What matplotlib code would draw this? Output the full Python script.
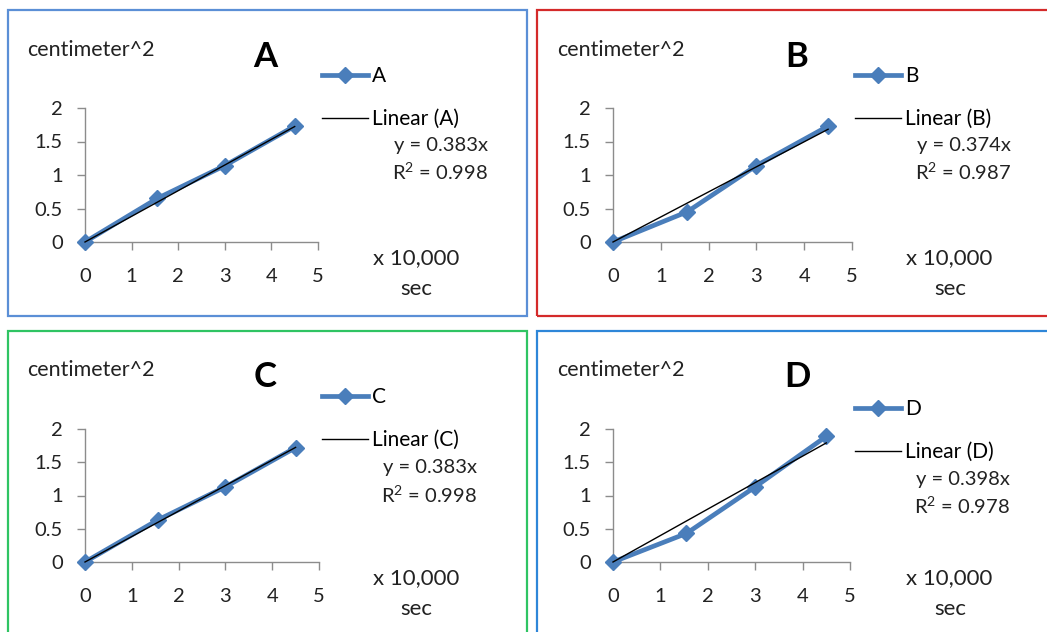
import matplotlib
matplotlib.use("Agg")
import matplotlib.pyplot as plt
from matplotlib.patches import Rectangle
from matplotlib.ticker import FuncFormatter

W, H = 1047, 632
plt.rcParams['font.family'] = ['Lato', 'DejaVu Sans']
plt.rcParams['mathtext.fontset'] = 'custom'
plt.rcParams['mathtext.rm'] = 'Lato'
plt.rcParams['mathtext.it'] = 'Lato:italic'
plt.rcParams['mathtext.bf'] = 'Lato:bold'

x_vals = [0, 1.55, 3.0, 4.5]
series_A = [0, 0.65, 1.14, 1.73]
series_B = [0, 0.45, 1.14, 1.73]
series_C = [0, 0.63, 1.13, 1.72]
series_D = [0, 0.43, 1.13, 1.89]
slopes = [0.383, 0.374, 0.383, 0.398]
r2 = [0.998, 0.987, 0.998, 0.978]
names = ["A", "B", "C", "D"]
x_ticks = [0, 1, 2, 3, 4, 5]
y_ticks = [0, 0.5, 1, 1.5, 2]
y_label = "centimeter^2"
x_label_1 = "x 10,000"
x_label_2 = "sec"

series = [series_A, series_B, series_C, series_D]
border_colors = ["#5b8fd6", "#d42a2a", "#2fc463", "#2e86d8"]
# panel boxes (left, top, right, bottom) in pixels
boxes = [(8, 10, 527, 316), (537, 10, 1052, 316), (8, 331, 527, 640), (537, 331, 1052, 640)]
# axes positions (left, top, right, bottom) in pixels
axes_px = [(85, 108, 318, 242), (613, 108, 852, 242), (85, 429, 319, 562), (613, 429, 850, 562)]
# text positions per panel (pixels)
ylab_pos = [(27, 50), (557, 50), (27, 370), (557, 370)]
title_pos = [(265, 57), (797, 57), (265, 377), (797, 377)]
legend_pos = [(322, 75), (855, 75), (322, 396), (855, 408)]
eq_pos = [(488, 145), (1011, 145), (477, 468), (1010, 479)]
xlab_pos = [(373, 258), (906, 258), (373, 578), (906, 578)]
sec_pos = [(416, 289), (950, 289), (416, 609), (950, 609)]

blue = "#4a7ebb"
txt = "#222222"
fig = plt.figure(figsize=(W / 100, H / 100), dpi=100)

def fx(px):
    return px / W

def fy(py):
    return 1 - py / H

for i in range(4):
    l, t, r, b = boxes[i]
    fig.patches.append(Rectangle((fx(l), fy(b)), fx(r - l), (b - t) / H, transform=fig.transFigure,
                                 fill=False, edgecolor=border_colors[i], linewidth=1.6))
    al, at, ar, ab = axes_px[i]
    ax = fig.add_axes([fx(al), fy(ab), fx(ar - al), (ab - at) / H])
    ax.plot(x_vals, series[i], color=blue, lw=3.4, marker='D', markersize=8.5,
            markerfacecolor=blue, markeredgecolor=blue, label=names[i], zorder=3, clip_on=False)
    xs = [x_vals[0], x_vals[-1]]
    ax.plot(xs, [slopes[i] * v for v in xs], color="black", lw=1.0,
            label="Linear (%s)" % names[i], zorder=4, clip_on=False)
    ax.set_xlim(0, 5)
    ax.set_ylim(0, 2)
    ax.set_xticks(x_ticks)
    ax.set_yticks(y_ticks)
    ax.yaxis.set_major_formatter(FuncFormatter(lambda v, p: ("%g" % v)))
    for s in ["top", "right"]:
        ax.spines[s].set_visible(False)
    for s in ["left", "bottom"]:
        ax.spines[s].set_color("#8c8c8c")
        ax.spines[s].set_linewidth(1.0)
    ax.tick_params(axis='both', colors="#8c8c8c", labelcolor=txt, labelsize=14.5,
                   length=6, width=1.0)
    ax.tick_params(axis='x', pad=13)
    ax.tick_params(axis='y', pad=10)
    ax.patch.set_alpha(0)

    lx, ly = legend_pos[i]
    ax.legend(loc='upper left', bbox_to_anchor=(fx(lx), fy(ly - 9)),
              bbox_transform=fig.transFigure, frameon=False, fontsize=15,
              handlelength=2.2, handletextpad=0.2, labelspacing=1.1, numpoints=1,
              borderpad=0, borderaxespad=0)

    px, py = ylab_pos[i]
    fig.text(fx(px), fy(py), y_label, fontsize=15.5, va='center', ha='left', color=txt)
    px, py = title_pos[i]
    fig.text(fx(px), fy(py), names[i], fontsize=25, fontweight='bold',
             va='center', ha='center', color="black")
    px, py = eq_pos[i]
    fig.text(fx(px), fy(py), "y = %.3fx" % slopes[i], fontsize=14.5,
             va='center', ha='right', color=txt)
    fig.text(fx(px), fy(py + 27), "R$^2$ = %.3f" % r2[i], fontsize=14.5,
             va='center', ha='right', color=txt)
    px, py = xlab_pos[i]
    fig.text(fx(px), fy(py), x_label_1, fontsize=16, va='center', ha='left', color=txt)
    px, py = sec_pos[i]
    fig.text(fx(px), fy(py), x_label_2, fontsize=16, va='center', ha='center', color=txt)

fig.savefig("out.png", dpi=100)
